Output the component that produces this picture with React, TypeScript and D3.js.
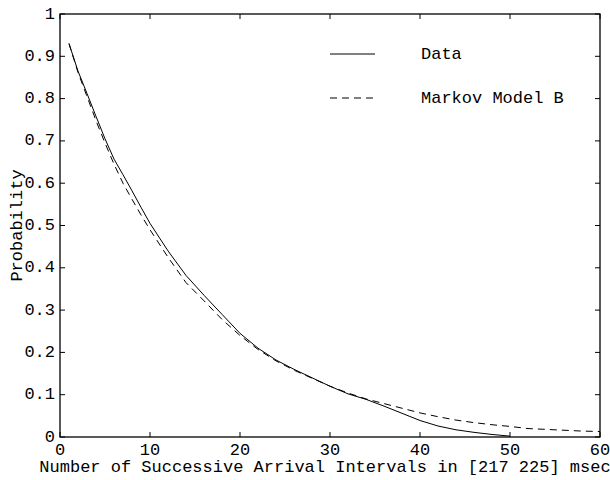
import React from "react";
import * as d3 from "d3";

const dataX = [1, 2, 3, 4, 5, 6, 7, 8, 9, 10, 12, 14, 16, 18, 20, 22, 24, 26, 28, 30, 32, 34, 36, 38, 40, 42, 44, 46, 48, 50];
const dataY = [0.93, 0.865, 0.812, 0.758, 0.705, 0.657, 0.62, 0.582, 0.543, 0.505, 0.44, 0.382, 0.335, 0.29, 0.245, 0.21, 0.182, 0.16, 0.14, 0.12, 0.102, 0.089, 0.073, 0.056, 0.039, 0.026, 0.017, 0.011, 0.006, 0.002];

const modelX = [1, 2, 3, 4, 5, 6, 7, 8, 9, 10, 12, 14, 16, 18, 20, 22, 24, 26, 28, 30, 32, 34, 36, 38, 40, 42, 44, 46, 48, 50, 52, 54, 56, 58, 60];
const modelY = [0.93, 0.862, 0.805, 0.748, 0.695, 0.645, 0.6, 0.562, 0.525, 0.49, 0.425, 0.365, 0.322, 0.278, 0.24, 0.207, 0.18, 0.158, 0.139, 0.12, 0.104, 0.09, 0.079, 0.068, 0.057, 0.048, 0.04, 0.034, 0.029, 0.025, 0.02, 0.018, 0.016, 0.014, 0.013];

const xTicks = [0, 10, 20, 30, 40, 50, 60];
const yTicks = [0, 0.1, 0.2, 0.3, 0.4, 0.5, 0.6, 0.7, 0.8, 0.9, 1];
const yTickLabels = ["0", "0.1", "0.2", "0.3", "0.4", "0.5", "0.6", "0.7", "0.8", "0.9", "1"];

const seriesNames = ["Data", "Markov Model B"];
const xTitle = "Number of Successive Arrival Intervals in [217 225] msec";
const yTitle = "Probability";

export default function App() {
  const W = 610, H = 480;
  const left = 60, right = 600, top = 14, bottom = 437;
  const x = d3.scaleLinear().domain([0, 60]).range([left, right]);
  const y = d3.scaleLinear().domain([0, 1]).range([bottom, top]);
  const line = d3.line<[number, number]>().x(d => x(d[0])).y(d => y(d[1]));
  const dataPts = dataX.map((v, i) => [v, dataY[i]] as [number, number]);
  const modelPts = modelX.map((v, i) => [v, modelY[i]] as [number, number]);
  const font = "'Liberation Mono', 'Courier New', monospace";
  const fs = 17;
  const tl = 5;
  return (
    <svg width={W} height={H} style={{ position: "absolute", left: 0, top: 0 }} fontFamily={font} fontSize={fs}>
      <rect x={0} y={0} width={W} height={H} fill="white" />
      <rect x={left} y={top} width={right - left} height={bottom - top} fill="none" stroke="black" strokeWidth={1.3} />
      {xTicks.map(t => (
        <g key={"x" + t}>
          <line x1={x(t)} x2={x(t)} y1={bottom} y2={bottom - tl} stroke="black" strokeWidth={1} />
          <line x1={x(t)} x2={x(t)} y1={top} y2={top + tl} stroke="black" strokeWidth={1} />
          <text x={x(t)} y={bottom + 18} textAnchor="middle" fill="black">{t}</text>
        </g>
      ))}
      {yTicks.map((t, i) => (
        <g key={"y" + t}>
          <line x1={left} x2={left + tl} y1={y(t)} y2={y(t)} stroke="black" strokeWidth={1} />
          <line x1={right} x2={right - tl} y1={y(t)} y2={y(t)} stroke="black" strokeWidth={1} />
          <text x={left - 5} y={y(t)} textAnchor="end" dominantBaseline="central" fill="black">{yTickLabels[i]}</text>
        </g>
      ))}
      <path d={line(dataPts) || ""} fill="none" stroke="black" strokeWidth={1} />
      <path d={line(modelPts) || ""} fill="none" stroke="black" strokeWidth={1} strokeDasharray="7,5" />
      <line x1={330} x2={375} y1={54} y2={54} stroke="black" strokeWidth={1} />
      <text x={421} y={54} dominantBaseline="central" fill="black">{seriesNames[0]}</text>
      <line x1={330} x2={376} y1={98} y2={98} stroke="black" strokeWidth={1} strokeDasharray="7,5" />
      <text x={421} y={98} dominantBaseline="central" fill="black">{seriesNames[1]}</text>
      <text x={325} y={472} textAnchor="middle" fill="black">{xTitle}</text>
      <text transform={`translate(22, ${(top + bottom) / 2}) rotate(-90)`} textAnchor="middle" fill="black">{yTitle}</text>
    </svg>
  );
}
